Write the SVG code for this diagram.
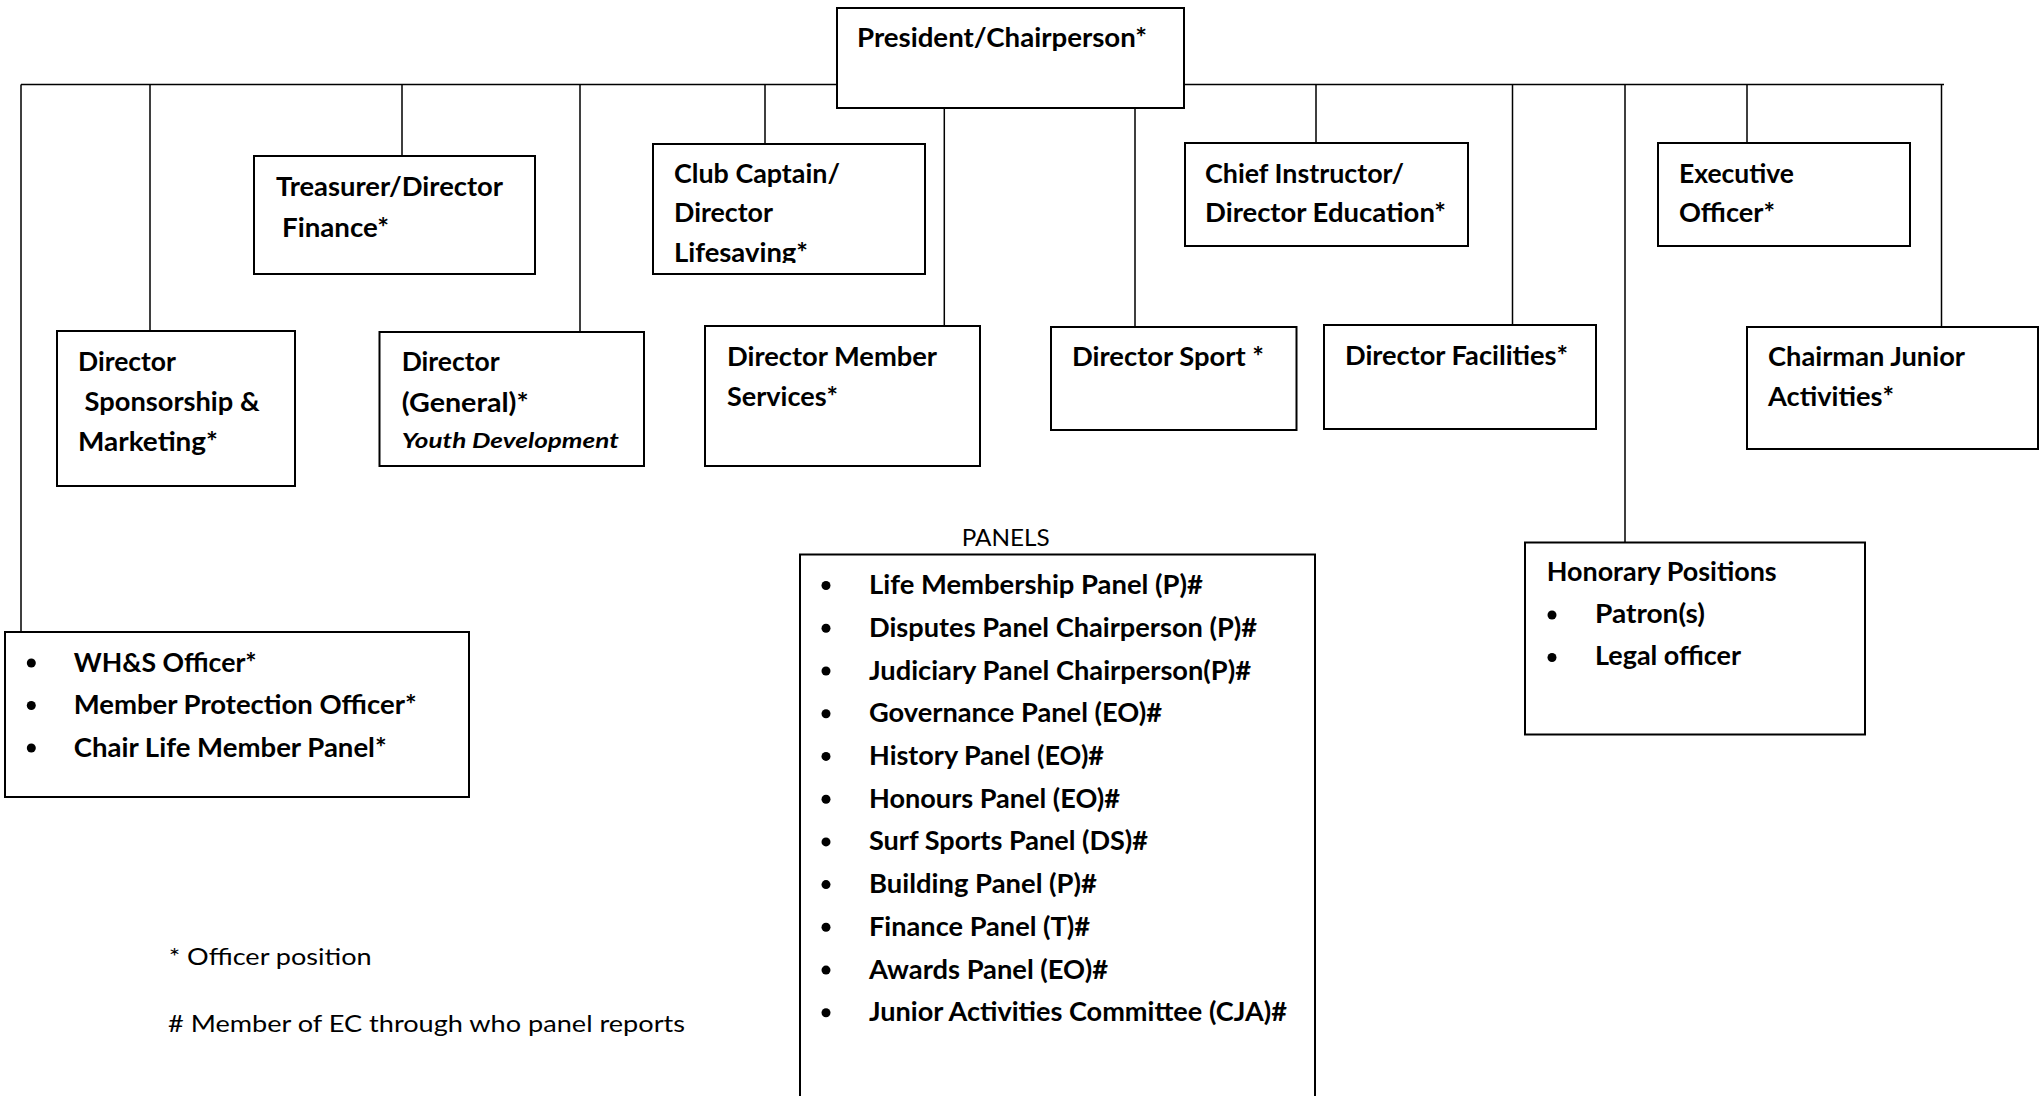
<svg xmlns="http://www.w3.org/2000/svg" width="2040" height="1096" viewBox="0 0 2040 1096">
<style>
.box{fill:#fff;stroke:#000;stroke-width:2}
.ln{stroke:#000;stroke-width:1.5;fill:none}
.b{font-family:Lato,'Open Sans','Liberation Sans',sans-serif;font-weight:700;font-size:26px;fill:#000}
.bi{font-family:Lato,'Open Sans','Liberation Sans',sans-serif;font-weight:700;font-style:italic;font-size:21px;fill:#000}
.r{font-family:Lato,'Open Sans','Liberation Sans',sans-serif;font-weight:400;font-size:23.5px;fill:#000}
.dot{fill:#000}
</style>
<defs>
<clipPath id="clipClub"><rect x="653" y="144" width="272" height="119"/></clipPath>
</defs>
<rect width="2040" height="1096" fill="#fff"/>
<g id="connectors">
<path class="ln" d="M21 84.5H1944"/>
<path class="ln" d="M21 84.5V632M150 84.5V331M402 84.5V156M580 84.5V332M765 84.5V144M944.3 108V326M1135 108V327M1316 84.5V143M1512.5 84.5V325M1625 84.5V542.5M1747 84.5V143M1941.5 84.5V327"/>
</g>
<g id="president">
<rect class="box" x="837" y="8" width="347" height="100"/>
<text class="b" x="857" y="46.5" textLength="290" lengthAdjust="spacingAndGlyphs">President/Chairperson*</text>
</g>
<g id="treasurer">
<rect class="box" x="254" y="156" width="281" height="118"/>
<text class="b" x="276" y="196" textLength="227" lengthAdjust="spacingAndGlyphs">Treasurer/Director</text>
<text class="b" x="282" y="236.5" textLength="107" lengthAdjust="spacingAndGlyphs">Finance*</text>
</g>
<g id="club-captain">
<rect class="box" x="653" y="144" width="272" height="130"/>
<text class="b" x="674" y="182.7" textLength="166" lengthAdjust="spacingAndGlyphs">Club Captain/</text>
<text class="b" x="674" y="222.3" textLength="99" lengthAdjust="spacingAndGlyphs">Director</text>
<text class="b" x="674" y="262" textLength="134" lengthAdjust="spacingAndGlyphs" clip-path="url(#clipClub)">Lifesaving*</text>
</g>
<g id="sponsorship">
<rect class="box" x="57" y="331" width="238" height="155"/>
<text class="b" x="78" y="370.7" textLength="98" lengthAdjust="spacingAndGlyphs">Director</text>
<text class="b" x="84.6" y="410.5" textLength="175" lengthAdjust="spacingAndGlyphs">Sponsorship &amp;</text>
<text class="b" x="78" y="450.5" textLength="140" lengthAdjust="spacingAndGlyphs">Marketing*</text>
</g>
<g id="director-general">
<rect class="box" x="379.5" y="332" width="264.5" height="134"/>
<text class="b" x="401.7" y="370.7" textLength="98" lengthAdjust="spacingAndGlyphs">Director</text>
<text class="b" x="401.7" y="411.5" textLength="127" lengthAdjust="spacingAndGlyphs">(General)*</text>
<text class="bi" x="401.7" y="448.3" textLength="217" lengthAdjust="spacingAndGlyphs">Youth Development</text>
</g>
<g id="member-services">
<rect class="box" x="705" y="326" width="275" height="140"/>
<text class="b" x="727" y="365.8" textLength="210" lengthAdjust="spacingAndGlyphs">Director Member</text>
<text class="b" x="727" y="405.7" textLength="111" lengthAdjust="spacingAndGlyphs">Services*</text>
</g>
<g id="director-sport">
<rect class="box" x="1051" y="327" width="245.5" height="103"/>
<text class="b" x="1072" y="365.5" textLength="192" lengthAdjust="spacingAndGlyphs">Director Sport *</text>
</g>
<g id="chief-instructor">
<rect class="box" x="1185" y="143" width="283" height="103"/>
<text class="b" x="1205" y="182.7" textLength="199" lengthAdjust="spacingAndGlyphs">Chief Instructor/</text>
<text class="b" x="1205" y="222.3" textLength="241" lengthAdjust="spacingAndGlyphs">Director Education*</text>
</g>
<g id="facilities">
<rect class="box" x="1324" y="325" width="272" height="104"/>
<text class="b" x="1345" y="365" textLength="223" lengthAdjust="spacingAndGlyphs">Director Facilities*</text>
</g>
<g id="executive">
<rect class="box" x="1658" y="143" width="252" height="103"/>
<text class="b" x="1679" y="182.7" textLength="115" lengthAdjust="spacingAndGlyphs">Executive</text>
<text class="b" x="1679" y="222.3" textLength="96" lengthAdjust="spacingAndGlyphs">Officer*</text>
</g>
<g id="chairman-junior">
<rect class="box" x="1747" y="327" width="291" height="122"/>
<text class="b" x="1768" y="366" textLength="197" lengthAdjust="spacingAndGlyphs">Chairman Junior</text>
<text class="b" x="1768" y="406" textLength="126" lengthAdjust="spacingAndGlyphs">Activities*</text>
</g>
<g id="officers">
<rect class="box" x="5" y="632" width="464" height="165"/>
<circle class="dot" cx="31.3" cy="663" r="4.5"/>
<circle class="dot" cx="31.3" cy="705.5" r="4.5"/>
<circle class="dot" cx="31.3" cy="748" r="4.5"/>
<text class="b" x="73.7" y="671.5" textLength="183" lengthAdjust="spacingAndGlyphs">WH&amp;S Officer*</text>
<text class="b" x="73.7" y="714" textLength="343" lengthAdjust="spacingAndGlyphs">Member Protection Officer*</text>
<text class="b" x="73.7" y="756.5" textLength="313" lengthAdjust="spacingAndGlyphs">Chair Life Member Panel*</text>
</g>
<g id="panels">
<text class="r" x="961.7" y="546" textLength="88" lengthAdjust="spacingAndGlyphs">PANELS</text>
<rect class="box" x="800" y="554.5" width="515" height="560"/>
<g class="dot">
<circle cx="826" cy="585.5" r="4.5"/>
<circle cx="826" cy="628.2" r="4.5"/>
<circle cx="826" cy="671" r="4.5"/>
<circle cx="826" cy="713.7" r="4.5"/>
<circle cx="826" cy="756.4" r="4.5"/>
<circle cx="826" cy="799.2" r="4.5"/>
<circle cx="826" cy="841.9" r="4.5"/>
<circle cx="826" cy="884.6" r="4.5"/>
<circle cx="826" cy="927.3" r="4.5"/>
<circle cx="826" cy="970.1" r="4.5"/>
<circle cx="826" cy="1012.8" r="4.5"/>
</g>
<text class="b" x="869" y="594" textLength="334" lengthAdjust="spacingAndGlyphs">Life Membership Panel (P)#</text>
<text class="b" x="869" y="636.7" textLength="388" lengthAdjust="spacingAndGlyphs">Disputes Panel Chairperson (P)#</text>
<text class="b" x="869" y="679.5" textLength="382" lengthAdjust="spacingAndGlyphs">Judiciary Panel Chairperson(P)#</text>
<text class="b" x="869" y="722.2" textLength="293" lengthAdjust="spacingAndGlyphs">Governance Panel (EO)#</text>
<text class="b" x="869" y="764.9" textLength="235" lengthAdjust="spacingAndGlyphs">History Panel (EO)#</text>
<text class="b" x="869" y="807.7" textLength="251" lengthAdjust="spacingAndGlyphs">Honours Panel (EO)#</text>
<text class="b" x="869" y="850.4" textLength="279" lengthAdjust="spacingAndGlyphs">Surf Sports Panel (DS)#</text>
<text class="b" x="869" y="893.1" textLength="228" lengthAdjust="spacingAndGlyphs">Building Panel (P)#</text>
<text class="b" x="869" y="935.8" textLength="221" lengthAdjust="spacingAndGlyphs">Finance Panel (T)#</text>
<text class="b" x="869" y="978.6" textLength="239" lengthAdjust="spacingAndGlyphs">Awards Panel (EO)#</text>
<text class="b" x="869" y="1021.3" textLength="418" lengthAdjust="spacingAndGlyphs">Junior Activities Committee (CJA)#</text>
</g>
<g id="honorary">
<rect class="box" x="1525" y="542.5" width="340" height="192"/>
<text class="b" x="1546.7" y="580.7" textLength="230" lengthAdjust="spacingAndGlyphs">Honorary Positions</text>
<circle class="dot" cx="1552" cy="615" r="4.5"/>
<circle class="dot" cx="1552" cy="657.5" r="4.5"/>
<text class="b" x="1595" y="623" textLength="110" lengthAdjust="spacingAndGlyphs">Patron(s)</text>
<text class="b" x="1595" y="665.3" textLength="146" lengthAdjust="spacingAndGlyphs">Legal officer</text>
</g>
<g id="legend">
<text class="r" x="168.7" y="965" textLength="203" lengthAdjust="spacingAndGlyphs">* Officer position</text>
<text class="r" x="168" y="1032.3" textLength="517" lengthAdjust="spacingAndGlyphs"># Member of EC through who panel reports</text>
</g>
</svg>
